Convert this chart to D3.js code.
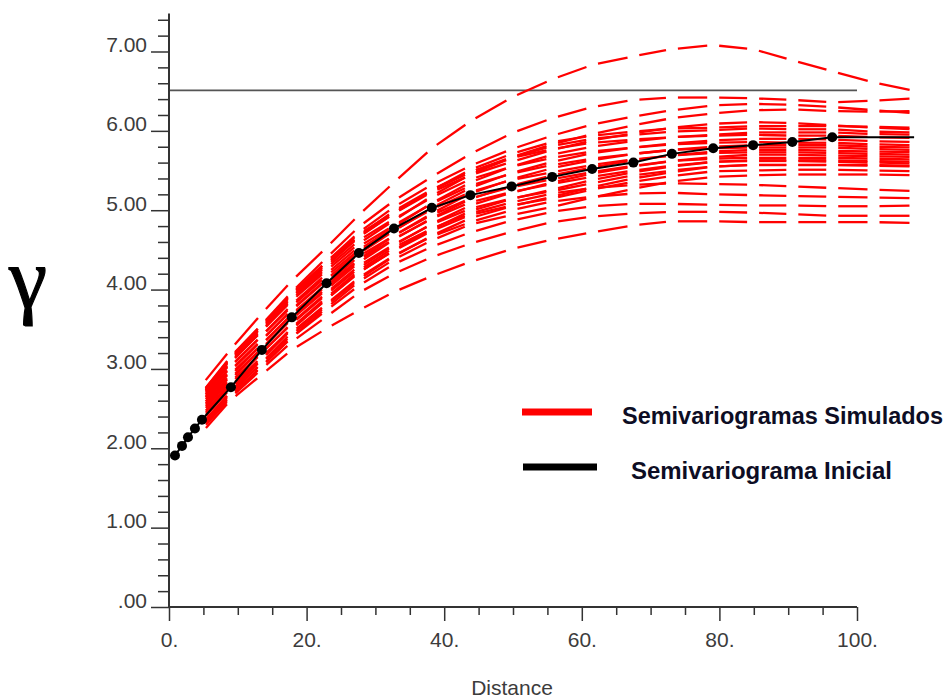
<!DOCTYPE html>
<html>
<head>
<meta charset="utf-8">
<script src="https://cdn.jsdelivr.net/npm/d3@7"></script>
<style>
  body { margin: 0; background: #fff; }
  svg { display: block; }
</style>
</head>
<body>
<svg id="chart" width="947" height="700"></svg>
<script>
// Experimental (initial) semivariogram: lag distance and gamma
const distanciaInicial = [0.87, 1.89, 2.76, 3.77, 4.79, 9.0, 13.5, 17.85, 22.9, 27.6, 32.7, 38.2, 43.8, 49.8, 55.7, 61.5, 67.5, 73.1, 79.1, 84.9, 90.6, 96.4, 108.3];
const gammaInicial     = [1.91, 2.03, 2.14, 2.25, 2.36, 2.77, 3.24, 3.65, 4.08, 4.46, 4.77, 5.03, 5.19, 5.30, 5.42, 5.52, 5.60, 5.71, 5.78, 5.82, 5.86, 5.92, 5.92];

// Lags of the simulated semivariograms
const distanciaSimulada = [4.79, 9.0, 13.5, 17.85, 22.9, 27.6, 32.7, 38.2, 43.8, 49.8, 55.7, 61.5, 67.5, 73.1, 79.1, 84.9, 90.6, 96.4, 102.4, 108.5];

// Gamma of each simulated semivariogram at those lags
const gammaSimulados = [
  [2.80, 3.25, 3.70, 4.11, 4.53, 4.94, 5.35, 5.78, 6.12, 6.42, 6.65, 6.83, 6.94, 7.03, 7.08, 7.03, 6.89, 6.75, 6.61, 6.50],
  [2.70, 3.15, 3.56, 3.97, 4.40, 4.79, 5.12, 5.42, 5.71, 5.97, 6.16, 6.30, 6.39, 6.42, 6.42, 6.41, 6.39, 6.36, 6.38, 6.41],
  [2.69, 3.13, 3.54, 3.94, 4.35, 4.72, 5.04, 5.32, 5.56, 5.77, 5.94, 6.08, 6.18, 6.26, 6.32, 6.34, 6.33, 6.30, 6.26, 6.22],
  [2.68, 3.12, 3.52, 3.92, 4.32, 4.68, 4.99, 5.26, 5.48, 5.67, 5.83, 5.96, 6.07, 6.16, 6.22, 6.26, 6.27, 6.25, 6.24, 6.25],
  [2.66, 3.10, 3.50, 3.90, 4.30, 4.66, 4.96, 5.23, 5.44, 5.61, 5.76, 5.88, 5.97, 6.04, 6.09, 6.11, 6.10, 6.07, 6.04, 6.02],
  [2.70, 3.16, 3.56, 3.95, 4.33, 4.67, 4.96, 5.25, 5.51, 5.71, 5.86, 5.94, 5.99, 6.03, 6.04, 6.06, 6.06, 6.06, 6.05, 6.04],
  [2.67, 3.14, 3.54, 3.95, 4.35, 4.70, 4.97, 5.25, 5.48, 5.66, 5.77, 5.85, 5.89, 5.92, 5.94, 5.95, 5.94, 5.94, 5.92, 5.91],
  [2.64, 3.09, 3.48, 3.86, 4.24, 4.58, 4.87, 5.18, 5.45, 5.66, 5.81, 5.90, 5.95, 5.99, 6.01, 6.03, 6.02, 6.02, 5.99, 5.98],
  [2.62, 3.08, 3.48, 3.88, 4.27, 4.62, 4.89, 5.16, 5.39, 5.55, 5.66, 5.74, 5.79, 5.83, 5.85, 5.86, 5.85, 5.85, 5.83, 5.82],
  [2.60, 3.04, 3.42, 3.79, 4.17, 4.50, 4.79, 5.09, 5.35, 5.55, 5.70, 5.80, 5.87, 5.92, 5.95, 5.98, 5.98, 5.98, 5.96, 5.95],
  [2.58, 3.03, 3.42, 3.81, 4.20, 4.54, 4.81, 5.08, 5.31, 5.46, 5.57, 5.65, 5.71, 5.76, 5.78, 5.79, 5.79, 5.79, 5.77, 5.76],
  [2.56, 2.99, 3.37, 3.74, 4.12, 4.45, 4.74, 5.03, 5.28, 5.47, 5.61, 5.72, 5.79, 5.84, 5.88, 5.90, 5.90, 5.89, 5.87, 5.86],
  [2.53, 2.98, 3.36, 3.75, 4.13, 4.48, 4.75, 5.01, 5.23, 5.38, 5.48, 5.57, 5.64, 5.69, 5.72, 5.73, 5.73, 5.72, 5.71, 5.70],
  [2.51, 2.94, 3.31, 3.68, 4.05, 4.38, 4.68, 4.96, 5.21, 5.39, 5.53, 5.63, 5.71, 5.76, 5.80, 5.82, 5.82, 5.82, 5.80, 5.79],
  [2.49, 2.92, 3.31, 3.69, 4.07, 4.42, 4.68, 4.94, 5.15, 5.29, 5.39, 5.48, 5.56, 5.62, 5.65, 5.66, 5.66, 5.66, 5.65, 5.64],
  [2.47, 2.89, 3.26, 3.63, 4.00, 4.34, 4.63, 4.90, 5.14, 5.31, 5.44, 5.54, 5.63, 5.69, 5.74, 5.76, 5.76, 5.75, 5.74, 5.73],
  [2.45, 2.87, 3.26, 3.64, 4.02, 4.37, 4.64, 4.89, 5.10, 5.23, 5.33, 5.42, 5.50, 5.56, 5.61, 5.62, 5.62, 5.61, 5.60, 5.59],
  [2.42, 2.84, 3.21, 3.57, 3.94, 4.27, 4.56, 4.83, 5.06, 5.22, 5.35, 5.46, 5.55, 5.62, 5.67, 5.70, 5.70, 5.69, 5.68, 5.67],
  [2.40, 2.82, 3.20, 3.58, 3.96, 4.30, 4.57, 4.82, 5.02, 5.15, 5.24, 5.34, 5.44, 5.50, 5.55, 5.57, 5.57, 5.57, 5.56, 5.55],
  [2.38, 2.79, 3.15, 3.51, 3.88, 4.21, 4.50, 4.76, 4.99, 5.14, 5.26, 5.38, 5.48, 5.55, 5.61, 5.63, 5.63, 5.63, 5.62, 5.61],
  [2.35, 2.76, 3.13, 3.50, 3.88, 4.22, 4.49, 4.74, 4.94, 5.06, 5.15, 5.26, 5.36, 5.43, 5.49, 5.50, 5.51, 5.51, 5.50, 5.49],
  [2.31, 2.71, 3.07, 3.43, 3.80, 4.13, 4.42, 4.68, 4.90, 5.05, 5.17, 5.29, 5.40, 5.48, 5.55, 5.57, 5.57, 5.57, 5.57, 5.56],
  [2.28, 2.67, 3.03, 3.40, 3.77, 4.10, 4.38, 4.62, 4.82, 4.94, 5.04, 5.16, 5.27, 5.36, 5.42, 5.44, 5.45, 5.45, 5.45, 5.44],
  [2.30, 2.72, 3.12, 3.52, 3.90, 4.24, 4.53, 4.77, 4.96, 5.10, 5.21, 5.28, 5.32, 5.34, 5.33, 5.32, 5.30, 5.28, 5.26, 5.24],
  [2.28, 2.69, 3.08, 3.46, 3.82, 4.15, 4.43, 4.67, 4.85, 5.00, 5.11, 5.17, 5.21, 5.22, 5.20, 5.19, 5.18, 5.17, 5.16, 5.15],
  [2.26, 2.66, 3.04, 3.40, 3.74, 4.05, 4.32, 4.54, 4.72, 4.87, 4.98, 5.05, 5.08, 5.08, 5.07, 5.06, 5.06, 5.05, 5.05, 5.06],
  [2.24, 2.64, 3.00, 3.34, 3.66, 3.96, 4.20, 4.41, 4.58, 4.73, 4.85, 4.92, 4.96, 4.98, 4.98, 4.97, 4.95, 4.93, 4.93, 4.93],
  [2.20, 2.61, 2.93, 3.24, 3.51, 3.74, 3.97, 4.17, 4.35, 4.51, 4.63, 4.72, 4.81, 4.86, 4.86, 4.85, 4.85, 4.85, 4.85, 4.84]
];

// Sill (variance) reference line
const meseta = 6.51;

// Axis ticks and labels
const yMajorTicks = [0, 1, 2, 3, 4, 5, 6, 7];
const yTickLabels = [".00", "1.00", "2.00", "3.00", "4.00", "5.00", "6.00", "7.00"];
const xMajorTicks = [0, 20, 40, 60, 80, 100];
const xTickLabels = ["0.", "20.", "40.", "60.", "80.", "100."];
const legendLabels = ["Semivariogramas Simulados", "Semivariograma Inicial"];
const legendColors = ["#ff0000", "#000000"];

const svg = d3.select("#chart");

const x = d3.scaleLinear().domain([0, 100]).range([169, 857]);
const y = d3.scaleLinear().domain([0, 7]).range([607, 51.5]);
const yTop = 7.48;

// Shadow filter for legend swatches
const defs = svg.append("defs");
defs.append("filter").attr("id", "sombra").attr("x", "-20%").attr("y", "-100%")
  .attr("width", "140%").attr("height", "300%")
  .append("feGaussianBlur").attr("stdDeviation", 2);

// Sill line
svg.append("line")
  .attr("x1", x(0)).attr("x2", x(100))
  .attr("y1", y(meseta)).attr("y2", y(meseta))
  .attr("stroke", "#555").attr("stroke-width", 1.6);

// Simulated semivariograms: one dash per lag interval, broken at each lag
const gap = 6;
const segLine = d3.line();
const simG = svg.append("g").attr("stroke", "#ff0000").attr("stroke-width", 2.3).attr("fill", "none");
gammaSimulados.forEach(serie => {
  for (let k = 0; k < serie.length - 1; k++) {
    const x0 = x(distanciaSimulada[k]), y0 = y(serie[k]);
    const x1 = x(distanciaSimulada[k + 1]), y1 = y(serie[k + 1]);
    const len = Math.hypot(x1 - x0, y1 - y0);
    const t = gap / len;
    simG.append("path").attr("d", segLine([
      [x0 + (x1 - x0) * t, y0 + (y1 - y0) * t],
      [x1 - (x1 - x0) * t, y1 - (y1 - y0) * t]
    ]));
  }
});

// Initial semivariogram line and points
const inicial = distanciaInicial.map((d, i) => [d, gammaInicial[i]]);
svg.append("path")
  .attr("d", d3.line().x(d => x(d[0])).y(d => y(d[1]))(inicial))
  .attr("fill", "none").attr("stroke", "#000").attr("stroke-width", 2);
svg.append("g").selectAll("circle")
  .data(inicial.filter(d => d[0] <= 100))
  .join("circle")
  .attr("cx", d => x(d[0])).attr("cy", d => y(d[1])).attr("r", 5)
  .attr("fill", "#000");

// Axes
const axisColor = "#333";
const labelFont = "'Liberation Sans', Arial, sans-serif";

const yMinorTicks = d3.range(0, yTop, 0.2).filter(v => Math.abs(v - Math.round(v)) > 1e-6);
const yMinor = svg.append("g").attr("transform", `translate(${x(0)},0)`)
  .call(d3.axisLeft(y).tickValues(yMinorTicks).tickSize(11).tickFormat(""));
const yAxis = svg.append("g").attr("transform", `translate(${x(0)},0)`)
  .call(d3.axisLeft(y).tickValues(yMajorTicks).tickSize(18)
    .tickFormat((d, i) => yTickLabels[i]));
yAxis.selectAll("text").attr("x", -22).attr("dy", 0)
  .attr("font-size", 21).attr("font-family", labelFont).attr("fill", "#3c3c3c");
[yMinor, yAxis].forEach(g => {
  g.select(".domain").remove();
  g.selectAll("line").attr("stroke", axisColor).attr("stroke-width", 1.5);
});
svg.append("line").attr("x1", x(0)).attr("x2", x(0))
  .attr("y1", y(0)).attr("y2", y(yTop))
  .attr("stroke", axisColor).attr("stroke-width", 2);

const xMinor = svg.append("g").attr("transform", `translate(0,${y(0)})`)
  .call(d3.axisBottom(x).tickValues(d3.range(5, 100, 5).filter(v => v % 20 !== 0))
    .tickSize(8).tickFormat(""));
const xAxis = svg.append("g").attr("transform", `translate(0,${y(0)})`)
  .call(d3.axisBottom(x).tickValues(xMajorTicks).tickSize(14)
    .tickFormat((d, i) => xTickLabels[i]));
xAxis.selectAll("text").attr("y", 40).attr("dy", 0)
  .attr("font-size", 21).attr("font-family", labelFont).attr("fill", "#3c3c3c");
[xMinor, xAxis].forEach(g => {
  g.select(".domain").remove();
  g.selectAll("line").attr("stroke", axisColor).attr("stroke-width", 1.5);
});
svg.append("line").attr("x1", x(0)).attr("x2", x(100))
  .attr("y1", y(0)).attr("y2", y(0))
  .attr("stroke", axisColor).attr("stroke-width", 2);

// Axis titles
svg.append("text").attr("x", 512).attr("y", 695).attr("text-anchor", "middle")
  .attr("font-family", labelFont).attr("font-size", 21).attr("fill", "#3c3c3c")
  .text("Distance");
svg.append("text").attr("x", 9).attr("y", 307)
  .attr("font-family", "'Liberation Serif', 'Times New Roman', serif")
  .attr("font-size", 86).attr("fill", "#000")
  .attr("stroke", "#000").attr("stroke-width", 1.2)
  .text("γ");

// Legend
const legendRows = [
  { x1: 522, x2: 592, y: 412, tx: 622, ty: 424, w: 321 },
  { x1: 523, x2: 597, y: 467, tx: 631, ty: 479, w: 261 }
];
legendRows.forEach((r, i) => {
  svg.append("line").attr("x1", r.x1 + 8).attr("x2", r.x2 + 8)
    .attr("y1", r.y + 7).attr("y2", r.y + 7)
    .attr("stroke", "#8a8a8a").attr("stroke-width", 7).attr("filter", "url(#sombra)");
  svg.append("line").attr("x1", r.x1).attr("x2", r.x2)
    .attr("y1", r.y).attr("y2", r.y)
    .attr("stroke", legendColors[i]).attr("stroke-width", 7);
  svg.append("text").attr("x", r.tx).attr("y", r.ty)
    .attr("font-family", labelFont).attr("font-weight", "bold")
    .attr("font-size", 23).attr("fill", "#0d0d24")
    .attr("textLength", r.w).attr("lengthAdjust", "spacingAndGlyphs")
    .text(legendLabels[i]);
});
</script>
</body>
</html>
